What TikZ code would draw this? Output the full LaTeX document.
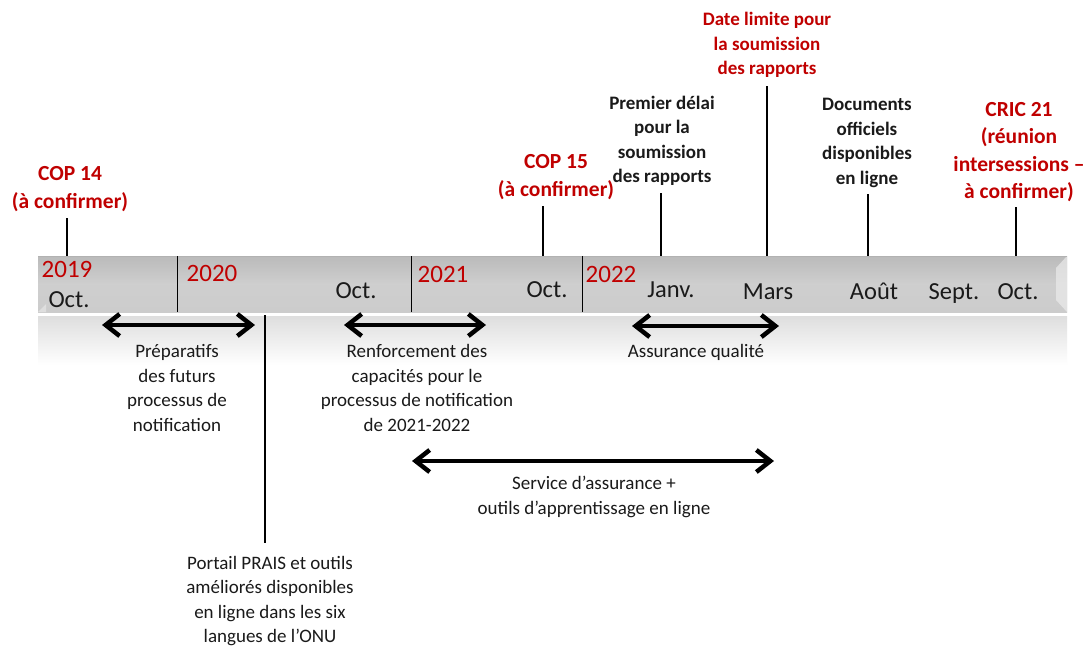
\documentclass[tikz,border=0pt]{standalone}
\usepackage{fontspec}
\setmainfont{Carlito}
\usetikzlibrary{arrows.meta}
\definecolor{redc}{HTML}{C00000}
\definecolor{txt}{HTML}{1A1A1A}
\begin{document}
\begin{tikzpicture}[x=1pt,y=-1pt,
  body/.style={font=\fontsize{19}{24.5}\selectfont, align=center, inner sep=0pt, text=txt},
  bodyb/.style={font=\bfseries\fontsize{19}{24.5}\selectfont, align=center, inner sep=0pt, text=txt},
  redb/.style={font=\bfseries\fontsize{19}{24.5}\selectfont, align=center, inner sep=0pt, text=redc},
  bigred/.style={font=\bfseries\fontsize{21.5}{27.5}\selectfont, align=center, inner sep=0pt, text=redc},
  yr/.style={font=\fontsize{25}{30}\selectfont, inner sep=0pt, text=redc, anchor=base},
  mo/.style={font=\fontsize{24.5}{30}\selectfont, inner sep=0pt, text=txt, anchor=base},
  tick/.style={draw=black, line width=1.6pt},
  divider/.style={draw=black, line width=0.9pt},
  dbl/.style={line width=4.5pt, {Straight Barb[length=14pt,width=22pt]}-{Straight Barb[length=14pt,width=22pt]}}]
\useasboundingbox (0,0) rectangle (1088,646);
\fill[white] (0,0) rectangle (1088,646);
% shadow band under bar
\shade[top color=black!13, bottom color=white] (38,316) rectangle (1067,365);
% bar
\shade[top color=black!27, bottom color=black!20, middle color=black!19] (38,256) rectangle (1067,312);
\fill[black!8, opacity=0.7] (1067,256) -- (1056,268) -- (1056,300) -- (1067,312) -- cycle;
\fill[black!8, opacity=0.6] (38,312) -- (46,304) -- (46,312) -- cycle;
\draw[black!30, line width=0.8pt] (38,256.4) -- (1067,256.4);
% dividers
\coordinate (d1a) at (177,256); \coordinate (d1b) at (177,312);
\coordinate (d2a) at (411,256); \coordinate (d2b) at (411,312);
\coordinate (d3a) at (582,256); \coordinate (d3b) at (582,312);
\draw[divider] (d1a) -- (d1b);
\draw[divider] (d2a) -- (d2b);
\draw[divider] (d3a) -- (d3b);
% bar labels
\node[yr] (y19) at (67,277) {2019};
\node[mo] (m1) at (69,307) {Oct.};
\node[yr] (y20) at (212,281) {2020};
\node[mo] (m2) at (356,298) {Oct.};
\node[yr] (y21) at (443,282) {2021};
\node[mo] (m3) at (547,297) {Oct.};
\node[yr] (y22) at (611,282) {2022};
\node[mo] (m4) at (671,297) {Janv.};
\node[mo] (m5) at (768,299) {Mars};
\node[mo] (m6) at (874,299) {Août};
\node[mo] (m7) at (954,299) {Sept.};
\node[mo] (m8) at (1018,299) {Oct.};
% top labels
\node[bigred] (cop14) at (70,189) {COP 14\\(à confirmer)};
\node[bigred] (cop15) at (556,177) {COP 15\\(à confirmer)};
\node[bodyb] (prem) at (662,141) {Premier délai\\pour la\\soumission\\des rapports};
\node[redb] (dlim) at (767,45) {Date limite pour\\la soumission\\des rapports};
\node[bodyb] (docs) at (867,143) {Documents\\officiels\\disponibles\\en ligne};
\node[bigred] (cric) at (1019,152) {CRIC 21\\(réunion\\intersessions –\\à confirmer)};
% ticks
\coordinate (t1a) at (67,218); \coordinate (t1b) at (67,256);
\coordinate (t2a) at (543,206); \coordinate (t2b) at (543,256);
\coordinate (t3a) at (661,193); \coordinate (t3b) at (661,256);
\coordinate (t4a) at (767,86); \coordinate (t4b) at (767,256);
\coordinate (t5a) at (868,194); \coordinate (t5b) at (868,256);
\coordinate (t6a) at (1016,207); \coordinate (t6b) at (1016,256);
\draw[tick] (t1a) -- (t1b);
\draw[tick] (t2a) -- (t2b);
\draw[tick] (t3a) -- (t3b);
\draw[tick] (t4a) -- (t4b);
\draw[tick] (t5a) -- (t5b);
\draw[tick] (t6a) -- (t6b);
% portail line
\coordinate (pa) at (265,315); \coordinate (pb) at (265,543);
\draw[tick] (pa) -- (pb);
% arrows
\coordinate (a1l) at (102,325); \coordinate (a1r) at (255,325);
\coordinate (a2l) at (344,325); \coordinate (a2r) at (486,325);
\coordinate (a3l) at (632,326); \coordinate (a3r) at (779,326);
\coordinate (a4l) at (412,461); \coordinate (a4r) at (774,461);
\draw[dbl] (a1l) -- (a1r);
\draw[dbl] (a2l) -- (a2r);
\draw[dbl] (a3l) -- (a3r);
\draw[dbl] (a4l) -- (a4r);
% bottom labels
\node[body] (prep) at (177,388) {Préparatifs\\des futurs\\processus de\\notification};
\node[body] (renf) at (417,388) {Renforcement des\\capacités pour le\\processus de notification\\de 2021-2022};
\node[body] (assq) at (696,352) {Assurance qualité};
\node[body] (serv) at (594,497) {Service d’assurance +\\outils d’apprentissage en ligne};
\node[body] (port) at (270,601) {Portail PRAIS et outils\\améliorés disponibles\\en ligne dans les six\\langues de l’ONU};
\end{tikzpicture}
\end{document}
